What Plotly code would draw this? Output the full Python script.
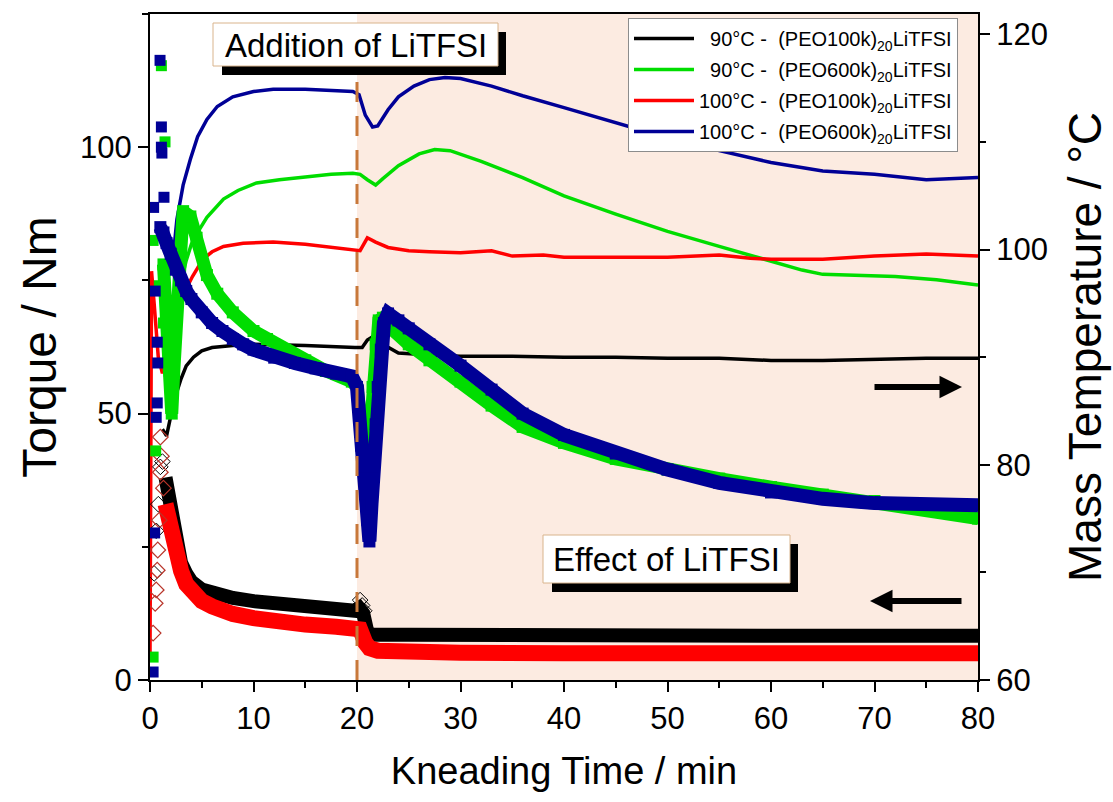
import plotly.graph_objects as go

# ---------------- data ----------------
# Mass temperature (°C) – right axis
t_temp_90_100k = [1.2, 1.6, 2.0, 2.5, 3.0, 3.5, 4.2, 5.0, 6.0, 8.0, 10, 15, 19.8, 20.5, 21.0, 21.5, 22.5, 24, 27, 30, 35, 40, 45, 50, 55, 60, 65, 70, 75, 80]
temp_90_100k = [83.3, 82.7, 84.5, 86.5, 88.0, 89.2, 90.0, 90.6, 90.9, 91.1, 91.2, 91.1, 90.9, 90.9, 91.6, 91.9, 91.2, 90.4, 90.2, 90.1, 90.1, 90.0, 90.0, 89.9, 89.9, 89.7, 89.7, 89.8, 89.9, 89.9]

t_temp_90_600k = [3.0, 3.5, 4.0, 4.6, 5.5, 7.1, 8.5, 10.3, 12.5, 15.2, 17.5, 19.6, 20.3, 21.0, 21.8, 22.5, 24, 26, 27.5, 29, 32, 36, 40, 45, 50, 55, 60, 63, 65, 68, 72, 76, 80]
temp_90_600k = [97.0, 99.0, 100.5, 101.6, 103.0, 104.7, 105.5, 106.2, 106.5, 106.8, 107.0, 107.1, 107.0, 106.5, 106.0, 106.6, 107.8, 108.9, 109.3, 109.2, 108.2, 106.7, 105.0, 103.3, 101.7, 100.3, 98.9, 98.1, 97.7, 97.6, 97.5, 97.2, 96.7]

t_temp_100_100k = [0.0, 0.15, 0.4, 0.8, 1.2, 1.8, 2.5, 3.2, 4.1, 5.1, 6.0, 7.1, 9.0, 11.9, 15, 18, 19.6, 20.3, 21.0, 21.8, 23, 25, 27, 30, 33, 35, 38, 40, 45, 50, 55, 58, 60, 65, 70, 75, 80]
temp_100_100k = [62.0, 98.0, 95.0, 90.0, 88.5, 90.5, 93.5, 95.8, 97.5, 99.1, 99.8, 100.3, 100.6, 100.7, 100.5, 100.2, 100.0, 99.9, 101.1, 100.7, 100.2, 99.9, 99.8, 99.7, 99.9, 99.4, 99.5, 99.3, 99.3, 99.3, 99.5, 99.2, 99.1, 99.1, 99.4, 99.6, 99.4]

t_temp_100_600k = [2.2, 2.6, 3.2, 3.9, 4.6, 5.5, 6.5, 8.0, 10, 11.9, 15, 19.6, 20.2, 20.8, 21.5, 22.0, 23, 24, 25.5, 27, 28.5, 30, 33, 36, 40, 45, 50, 55, 60, 65, 70, 75, 80]
temp_100_600k = [99.0, 102.8, 106.0, 108.4, 110.5, 112.1, 113.3, 114.2, 114.7, 114.9, 114.9, 114.7, 114.4, 112.5, 111.4, 111.5, 113.0, 114.2, 115.2, 115.8, 116.0, 115.9, 115.2, 114.3, 113.2, 111.8, 110.4, 109.2, 108.1, 107.3, 107.0, 106.5, 106.7]

# Torque (Nm) – left axis
# 90°C - (PEO100k)20LiTFSI
t_torque_90_100k = [1.5, 2.0, 2.5, 3.0, 3.5, 4.0, 5.0, 6.0, 7.0, 8.0, 10, 12, 15, 18, 19.8, 20.2, 20.6, 21.0, 21.5, 25, 30, 40, 50, 60, 70, 80]
torque_90_100k = [38, 32, 26, 22, 20, 18.5, 17, 16.3, 15.8, 15.4, 14.8, 14.3, 13.8, 13.3, 13.0, 13.5, 12.5, 9.0, 8.5, 8.5, 8.4, 8.4, 8.3, 8.3, 8.3, 8.3]
t_torque_90_100k_start = [0.4, 0.6, 0.8, 1.0, 1.2, 20.3, 20.5, 20.7]
torque_90_100k_start = [20.0, 28.0, 33.0, 40.0, 41.0, 15.0, 14.0, 13.0]
# 100°C - (PEO100k)20LiTFSI
t_torque_100_100k = [1.5, 2.0, 2.5, 3.0, 3.5, 4.0, 5.0, 6.0, 7.0, 8.0, 10, 12, 15, 18, 19.8, 20.3, 20.8, 21.2, 22, 25, 30, 40, 50, 60, 70, 80]
torque_100_100k = [33, 28, 24, 20.5, 18, 16.5, 14.8, 13.8, 13.0, 12.4, 11.6, 11.0, 10.4, 10.0, 9.6, 9.5, 7.0, 6.0, 5.5, 5.2, 5.1, 5.0, 5.0, 5.0, 5.0, 5.0]
# early scattered readings of the 100°C - PEO100k torque
t_torque_100_100k_start = [0.3, 0.5, 0.6, 0.7, 0.75, 0.9, 1.0, 1.0, 1.1, 1.3]
torque_100_100k_start = [8.8, 14.4, 16.9, 20.6, 24.4, 30.0, 39.0, 45.6, 42.0, 36.0]
# 90°C - (PEO600k)20LiTFSI
t_torque_90_600k = [1.3, 1.6, 1.9, 2.1, 2.3, 2.5, 2.8, 3.2, 3.9, 4.5, 5.5, 6.5, 8.0, 10, 11.3, 13, 15, 17, 19.5, 20.0, 20.3, 20.6, 20.9, 21.2, 21.5, 21.8, 22.1, 22.5, 23, 25, 27, 30, 33, 36, 40, 45, 50, 55, 60, 65, 70, 75, 80]
torque_90_600k = [78, 68, 58, 50, 58, 68, 80, 88, 87, 83, 76, 72.5, 69, 65.5, 64, 62, 60, 58, 56, 55, 50, 43, 40, 45, 55, 63, 67.5, 68, 66.5, 63, 60, 56, 51.5, 47.5, 44.5, 41.5, 39.5, 37.8, 36.2, 34.8, 33.6, 32.2, 30.3]
t_torque_90_600k_start = [0.3, 0.55, 0.3, 1.1, 1.45, 1.3, 0.9]
torque_90_600k_start = [4.3, 43, 82.5, 115.3, 101, 67, 74]
# 100°C - (PEO600k)20LiTFSI
t_torque_100_600k = [1.0, 1.3, 1.6, 2.0, 2.5, 3.0, 3.5, 4, 5, 6, 7, 8, 9, 10, 12, 14, 16, 18, 19.5, 20.0, 20.2, 20.4, 20.6, 20.8, 21.0, 21.2, 21.4, 21.6, 21.8, 22.0, 22.3, 22.6, 23.0, 24, 25, 27, 30, 33, 36, 40, 45, 50, 55, 60, 65, 70, 75, 80]
torque_100_600k = [85, 84, 82, 80, 77, 75, 73, 71.5, 69, 67, 65.5, 64, 63, 62, 60.5, 59.5, 58.5, 57.5, 57, 55, 50, 44, 40, 35, 30, 26, 33, 40, 48, 55, 62, 67, 68.8, 67.5, 66, 63, 59, 54.5, 50, 46, 42.5, 39.5, 37, 35.2, 34, 33.2, 32.9, 32.8]
t_torque_100_600k_start = [0.3, 0.45, 0.6, 0.7, 0.75, 0.7, 0.35, 0.97, 1.1, 1.1, 1.15, 1.35, 0.5]
torque_100_600k_start = [1.5, 27.6, 49.3, 52, 59.5, 63.4, 88.7, 116.3, 103.8, 100, 98.9, 90.6, 73]

legend_names = [
    "\u00a0\u00a090°C -\u00a0 (PEO100k)<sub>20</sub>LiTFSI",
    "\u00a0\u00a090°C -\u00a0 (PEO600k)<sub>20</sub>LiTFSI",
    "100°C -\u00a0 (PEO100k)<sub>20</sub>LiTFSI",
    "100°C -\u00a0 (PEO600k)<sub>20</sub>LiTFSI",
]
x_ticks = [0, 10, 20, 30, 40, 50, 60, 70, 80]
torque_ticks = [0, 50, 100]
temp_ticks = [60, 80, 100, 120]
litfsi_time = 20

# ---------------- styling ----------------
BLACK = "#000000"
GREEN = "#00DD00"
RED = "#FF0000"
NAVY = "#000096"
DARKRED = "#B8352A"
FONT = "Liberation Sans, Arial, sans-serif"

W, H = 1113, 802
L, R, T, B = 150, 978, 14, 680  # plot area in pixels


def px(xp):
    return (xp - L) / (R - L)


def py(yp):
    return (B - yp) / (B - T)


fig = go.Figure()

# temperature lines (main y axis, right side)
for i, (t, v, c, n) in enumerate([
    (t_temp_90_100k, temp_90_100k, BLACK, legend_names[0]),
    (t_temp_90_600k, temp_90_600k, GREEN, legend_names[1]),
    (t_temp_100_100k, temp_100_100k, RED, legend_names[2]),
    (t_temp_100_600k, temp_100_600k, NAVY, legend_names[3]),
]):
    fig.add_trace(go.Scatter(x=t, y=v, mode="lines", line=dict(color=c, width=3.5),
                             name=n, yaxis="y", showlegend=True, legendgroup=f"g{i}"))

# torque traces (overlaying axis, left side) – drawn on top
fig.add_trace(go.Scatter(x=t_torque_90_100k_start, y=torque_90_100k_start, mode="markers",
                         marker=dict(symbol="diamond-open", size=12, color=BLACK, line=dict(width=1)),
                         yaxis="y2", showlegend=False))
fig.add_trace(go.Scatter(x=t_torque_90_100k, y=torque_90_100k, mode="lines",
                         line=dict(color=BLACK, width=14), yaxis="y2", showlegend=False))
fig.add_trace(go.Scatter(x=t_torque_100_100k, y=torque_100_100k, mode="lines",
                         line=dict(color=RED, width=16), yaxis="y2", showlegend=False))
fig.add_trace(go.Scatter(x=t_torque_100_100k_start, y=torque_100_100k_start, mode="markers",
                         marker=dict(symbol="diamond-open", size=12, color=DARKRED, line=dict(width=1.2)),
                         yaxis="y2", showlegend=False))
fig.add_trace(go.Scatter(x=t_torque_90_600k, y=torque_90_600k, mode="lines+markers",
                         line=dict(color=GREEN, width=13),
                         marker=dict(symbol="square", size=12, color=GREEN),
                         yaxis="y2", showlegend=False))
fig.add_trace(go.Scatter(x=t_torque_90_600k_start, y=torque_90_600k_start, mode="markers",
                         marker=dict(symbol="square", size=11, color=GREEN),
                         yaxis="y2", showlegend=False))
fig.add_trace(go.Scatter(x=t_torque_100_600k_start, y=torque_100_600k_start, mode="markers",
                         marker=dict(symbol="square", size=11, color=NAVY),
                         yaxis="y2", showlegend=False))
fig.add_trace(go.Scatter(x=t_torque_100_600k, y=torque_100_600k, mode="lines+markers",
                         line=dict(color=NAVY, width=14),
                         marker=dict(symbol="square", size=12, color=NAVY),
                         yaxis="y2", showlegend=False))

shapes = [
    # shaded region after LiTFSI addition
    dict(type="rect", xref="x", yref="paper", x0=litfsi_time, x1=80, y0=0, y1=1,
         fillcolor="#FCEBE1", line=dict(width=0), layer="below"),
    # dashed marker line
    dict(type="line", xref="x", yref="paper", x0=litfsi_time, x1=litfsi_time, y0=0, y1=0.985,
         line=dict(color="#C8783A", width=3, dash="20px,14px"), layer="above"),
    # label boxes with shadow
    dict(type="rect", xref="paper", yref="paper", x0=px(222), x1=px(506), y0=py(75), y1=py(32),
         fillcolor="black", line=dict(width=0), layer="above"),
    dict(type="rect", xref="paper", yref="paper", x0=px(213), x1=px(498), y0=py(66), y1=py(23),
         fillcolor="white", line=dict(color="#D9B48C", width=1), layer="above"),
    dict(type="rect", xref="paper", yref="paper", x0=px(552), x1=px(798), y0=py(592), y1=py(544),
         fillcolor="black", line=dict(width=0), layer="above"),
    dict(type="rect", xref="paper", yref="paper", x0=px(543), x1=px(790), y0=py(583), y1=py(535),
         fillcolor="white", line=dict(color="#D9B48C", width=1), layer="above"),
]

annotations = [
    dict(text="Addition of LiTFSI", xref="paper", yref="paper", x=px(355.5), y=py(45),
         showarrow=False, font=dict(family=FONT, size=33, color="black"),
         xanchor="center", yanchor="middle"),
    dict(text="Effect of LiTFSI", xref="paper", yref="paper", x=px(666.5), y=py(559),
         showarrow=False, font=dict(family=FONT, size=33, color="black"),
         xanchor="center", yanchor="middle"),
    # arrows indicating axes
    dict(text="", xref="paper", yref="paper", x=px(962), y=py(387), ax=-89, ay=0,
         showarrow=True, arrowhead=2, arrowsize=0.75, arrowwidth=6, arrowcolor="black"),
    dict(text="", xref="paper", yref="paper", x=px(870), y=py(601), ax=93, ay=0,
         showarrow=True, arrowhead=2, arrowsize=0.75, arrowwidth=6, arrowcolor="black"),
]

axis_common = dict(showline=True, linecolor="black", linewidth=2, ticks="outside",
                   ticklen=10, tickwidth=2, tickcolor="black", showgrid=False, zeroline=False,
                   tickfont=dict(family=FONT, size=31, color="black"))

fig.update_layout(
    width=W, height=H,
    margin=dict(l=L, r=W - R, t=T, b=H - B),
    paper_bgcolor="white", plot_bgcolor="white",
    font=dict(family=FONT, color="black"),
    shapes=shapes, annotations=annotations,
    xaxis=dict(range=[0, 80], tickvals=x_ticks, mirror=True,
               minor=dict(dtick=5, ticks="outside", ticklen=6, tickwidth=2, tickcolor="black"),
               title=dict(text="Kneading Time / min", font=dict(family=FONT, size=38), standoff=22),
               **axis_common),
    yaxis=dict(range=[60, 121.9], tickvals=temp_ticks, side="right",
               minor=dict(dtick=10, ticks="outside", ticklen=6, tickwidth=2, tickcolor="black"),
               title=dict(text="Mass Temperature / °C", font=dict(family=FONT, size=46), standoff=22),
               **axis_common),
    yaxis2=dict(range=[0, 125], tickvals=torque_ticks, side="left", overlaying="y",
                minor=dict(dtick=25, ticks="outside", ticklen=6, tickwidth=2, tickcolor="black"),
                title=dict(text="Torque / Nm", font=dict(family=FONT, size=48), standoff=8),
                **axis_common),
    legend=dict(x=px(628), y=py(18), xanchor="left", yanchor="top",
                bgcolor="white", bordercolor="#8C8C8C", borderwidth=1, itemwidth=60,
                font=dict(family=FONT, size=20, color="black"), tracegroupgap=2),
)

fig.write_html("out.html")
